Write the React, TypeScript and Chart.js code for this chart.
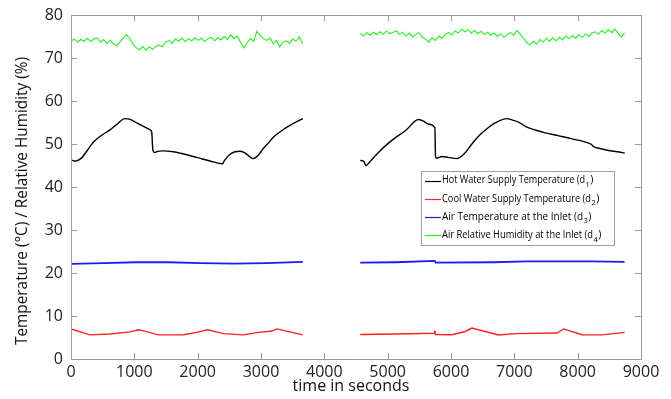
import { useEffect, useRef } from "react";
import { Chart, registerables } from "chart.js";
Chart.register(...registerables);

const FONT = "'Open Sans', sans-serif";

// Hot water supply temperature (d1)
const hotTimeA = [0, 62, 154, 257, 352, 462, 616, 719, 852, 924, 1027, 1130, 1248, 1274, 1294, 1324, 1366, 1438, 1616, 1746, 1933, 2054, 2208, 2391, 2424, 2512, 2588, 2670, 2752, 2824, 2880, 2957, 3029, 3132, 3197, 3337, 3491, 3661];
const hotValA = [46.3, 46.0, 46.6, 48.5, 50.4, 51.8, 53.3, 54.5, 55.9, 55.8, 55.0, 54.2, 53.3, 52.8, 48.5, 48.0, 48.3, 48.4, 48.2, 47.8, 47.1, 46.6, 46.0, 45.4, 46.2, 47.6, 48.2, 48.3, 47.9, 47.0, 46.6, 47.4, 48.8, 50.5, 51.6, 53.2, 54.6, 55.9];
const hotTimeB = [4566, 4621, 4655, 4744, 4878, 5013, 5134, 5288, 5487, 5566, 5648, 5745, 5756, 5771, 5853, 5956, 6094, 6213, 6330, 6469, 6572, 6698, 6883, 6962, 7067, 7188, 7342, 7488, 7702, 7910, 8174, 8215, 8252, 8369, 8488, 8626, 8742];
const hotValB = [46.2, 46.0, 45.0, 46.3, 48.4, 50.2, 51.6, 53.2, 55.7, 55.3, 54.6, 53.8, 47.0, 46.7, 47.1, 46.9, 46.6, 47.8, 50.0, 52.3, 53.6, 54.9, 55.9, 55.6, 55.1, 54.0, 53.2, 52.6, 51.9, 51.2, 50.2, 49.9, 49.4, 48.9, 48.5, 48.2, 47.9];

// Cool water supply temperature (d2)
const coolTimeA = [0, 298, 616, 934, 1064, 1130, 1379, 1774, 1985, 2160, 2406, 2721, 2959, 3170, 3249, 3661];
const coolValA = [7.0, 5.6, 5.8, 6.3, 6.8, 6.6, 5.6, 5.65, 6.2, 6.8, 5.9, 5.6, 6.2, 6.5, 7.0, 5.6];
const coolTimeB = [4566, 5134, 5740, 5745, 5756, 6014, 6225, 6330, 6751, 7015, 7673, 7778, 8068, 8384, 8742];
const coolValB = [5.7, 5.8, 6.0, 6.6, 5.7, 5.65, 6.4, 7.2, 5.6, 5.9, 6.05, 7.0, 5.65, 5.6, 6.2];

// Air temperature at the inlet (d3)
const airTimeA = [0, 513, 1027, 1540, 2054, 2567, 3081, 3661];
const airValA = [22.1, 22.3, 22.5, 22.5, 22.3, 22.2, 22.3, 22.6];
const airTimeB = [4566, 5134, 5745, 5760, 6675, 7188, 8215, 8742];
const airValB = [22.4, 22.5, 22.8, 22.4, 22.5, 22.7, 22.7, 22.6];

// Air relative humidity at the inlet (d4), regular sampling
const rhStartA = 0;
const rhStartB = 4570;
const rhStep = 51.5;
const rhValA = [
  73.9, 74.4, 73.7, 74.3, 73.9, 74.6, 73.8, 74.4, 74.7, 73.7,
  74.3, 73.4, 74.1, 73.3, 72.8, 73.7, 74.6, 75.4, 74.6, 73.2,
  72.4, 71.9, 72.7, 71.8, 72.6, 72.0, 72.7, 73.0, 72.6, 73.7,
  74.1, 73.4, 74.4, 73.9, 74.6, 73.8, 74.5, 74.0, 74.7, 74.1,
  74.6, 73.8, 74.5, 74.8, 74.0, 74.7, 74.2, 75.0, 74.3, 75.4,
  74.5, 75.1, 73.6, 72.4, 73.5, 74.5, 73.9, 76.2, 75.2, 74.5,
  74.1, 74.7, 73.3, 74.1, 72.6, 73.7, 74.0, 73.4, 74.4, 73.9,
  75.0, 73.3,
];
const rhValB = [
  75.7, 75.1, 75.9, 75.3, 76.0, 75.4, 76.1, 75.5, 76.3, 75.6,
  76.0, 76.3, 75.5, 76.0, 75.1, 75.8, 74.9, 75.5, 75.9, 74.8,
  74.4, 73.7, 74.7, 74.1, 75.1, 74.6, 75.5, 75.9, 75.4, 76.3,
  75.8, 76.7, 76.1, 76.6, 75.8, 76.4, 75.7, 76.2, 75.5, 76.0,
  75.3, 75.8, 75.0, 75.6, 74.8, 75.4, 75.9, 75.3, 76.4, 75.5,
  74.6, 73.6, 73.0, 73.9, 73.2, 74.3, 73.7, 74.6, 73.9, 74.7,
  74.0, 74.8, 74.2, 75.1, 74.5, 75.2, 74.6, 75.4, 74.8, 75.6,
  75.0, 75.8, 76.1, 75.5, 76.4, 75.8, 76.6, 75.9, 76.7, 75.8,
  74.9, 75.8,
];

const gapTime = 4100;
const xTicks = [0, 1000, 2000, 3000, 4000, 5000, 6000, 7000, 8000, 9000];
const yTicks = [0, 10, 20, 30, 40, 50, 60, 70, 80];

const legendLabels = [
  { text: "Hot Water Supply Temperature (d", sub: "1", color: "#000000", width: 143 },
  { text: "Cool Water Supply Temperature (d", sub: "2", color: "#ff2020", width: 149 },
  { text: "Air Temperature at the Inlet (d", sub: "3", color: "#1a1aff", width: 141 },
  { text: "Air Relative Humidity at the Inlet (d", sub: "4", color: "#22ee22", width: 151 },
];
const xTitle = "time in seconds";
const yTitle = "Temperature (°C) / Relative Humidity (%)";

function join(tA: number[], vA: number[], tB: number[], vB: number[]) {
  return [
    ...tA.map((x, i) => ({ x, y: vA[i] })),
    { x: gapTime, y: null },
    ...tB.map((x, i) => ({ x, y: vB[i] })),
  ];
}

const framePlugin = {
  id: "frame",
  afterDatasetsDraw(chart: any) {
    const { ctx, chartArea, scales } = chart;
    const { left, right, top, bottom } = chartArea;
    const xs = scales.x;
    const ys = scales.y;
    ctx.save();
    ctx.strokeStyle = "#9a9a9a";
    ctx.lineWidth = 1;
    ctx.beginPath();
    ctx.rect(Math.round(left) + 0.5, Math.round(top) + 0.5, Math.round(right - left), Math.round(bottom - top));
    ctx.stroke();
    const tl = 6;
    ctx.beginPath();
    xTicks.forEach((v) => {
      const px = Math.round(xs.getPixelForValue(v)) + 0.5;
      ctx.moveTo(px, bottom);
      ctx.lineTo(px, bottom - tl);
      ctx.moveTo(px, top);
      ctx.lineTo(px, top + tl);
    });
    yTicks.forEach((v) => {
      const py = Math.round(ys.getPixelForValue(v)) + 0.5;
      ctx.moveTo(left, py);
      ctx.lineTo(left + tl, py);
      ctx.moveTo(right, py);
      ctx.lineTo(right - tl, py);
    });
    ctx.stroke();

    // axis titles
    ctx.fillStyle = "#111";
    ctx.font = `16px ${FONT}`;
    ctx.textAlign = "center";
    ctx.textBaseline = "middle";
    ctx.fillText(xTitle, (left + right) / 2 - 5, 386, 118);
    ctx.save();
    ctx.translate(22, (top + bottom) / 2 + 14);
    ctx.rotate(-Math.PI / 2);
    ctx.fillText(yTitle, 0, 0, 288);
    ctx.restore();

    // legend
    const bx = 421.5;
    const by = 171.5;
    const bw = 193;
    const bh = 74;
    ctx.fillStyle = "#ffffff";
    ctx.fillRect(bx, by, bw, bh);
    ctx.strokeStyle = "#a0a0a0";
    ctx.strokeRect(bx, by, bw, bh);
    ctx.textAlign = "left";
    ctx.textBaseline = "middle";
    legendLabels.forEach((l, i) => {
      const cy = 180.5 + i * 18.3;
      ctx.strokeStyle = l.color;
      ctx.lineWidth = 1.2;
      ctx.beginPath();
      ctx.moveTo(425, Math.round(cy) + 0.5);
      ctx.lineTo(441, Math.round(cy) + 0.5);
      ctx.stroke();
      ctx.fillStyle = "#000";
      ctx.font = `10.5px ${FONT}`;
      const w = Math.min(ctx.measureText(l.text).width, l.width);
      ctx.fillText(l.text, 442, cy, l.width);
      ctx.font = `7.5px ${FONT}`;
      ctx.fillText(l.sub, 442 + w + 0.5, cy + 4);
      const sw = ctx.measureText(l.sub).width;
      ctx.font = `10.5px ${FONT}`;
      ctx.fillText(")", 442 + w + sw + 1, cy);
    });
    ctx.restore();
  },
};

export default function App() {
  const ref = useRef<HTMLCanvasElement | null>(null);
  useEffect(() => {
    if (!ref.current) return;
    const common = { pointRadius: 0, spanGaps: false, fill: false };
    const chart = new Chart(ref.current, {
      type: "line",
      data: {
        datasets: [
          {
            ...common,
            label: "d1",
            data: join(hotTimeA, hotValA, hotTimeB, hotValB) as any,
            borderColor: "#000000",
            borderWidth: 1.4,
            cubicInterpolationMode: "monotone",
          },
          {
            ...common,
            label: "d2",
            data: join(coolTimeA, coolValA, coolTimeB, coolValB) as any,
            borderColor: "#ff2020",
            borderWidth: 1.4,
            tension: 0,
          },
          {
            ...common,
            label: "d3",
            data: join(airTimeA, airValA, airTimeB, airValB) as any,
            borderColor: "#1a1aff",
            borderWidth: 1.8,
            tension: 0,
          },
          {
            ...common,
            label: "d4",
            data: join(
              rhValA.map((_, i) => rhStartA + i * rhStep),
              rhValA,
              rhValB.map((_, i) => rhStartB + i * rhStep),
              rhValB
            ) as any,
            borderColor: "#22ee22",
            borderWidth: 1.1,
            tension: 0,
          },
        ],
      },
      options: {
        responsive: false,
        animation: false,
        devicePixelRatio: 1,
        layout: { padding: { top: 15, right: 30, left: 0, bottom: 0 } },
        plugins: { legend: { display: false }, tooltip: { enabled: false } },
        scales: {
          x: {
            type: "linear",
            min: 0,
            max: 9000,
            afterBuildTicks: (s: any) => {
              s.ticks = xTicks.map((v) => ({ value: v }));
            },
            afterFit: (s: any) => {
              s.height = 40;
              s.paddingLeft = 0;
              s.paddingRight = 0;
            },
            ticks: {
              font: { family: FONT, size: 16 },
              color: "#222",
              padding: 4,
              maxRotation: 0,
              autoSkip: false,
              callback: (v: any) => String(v),
            },
            grid: { display: false, drawTicks: false },
            border: { display: false },
          },
          y: {
            min: 0,
            max: 80,
            afterBuildTicks: (s: any) => {
              s.ticks = yTicks.map((v) => ({ value: v }));
            },
            afterFit: (s: any) => {
              s.width = 71;
              s.paddingTop = 0;
              s.paddingBottom = 0;
            },
            ticks: {
              font: { family: FONT, size: 16 },
              color: "#222",
              padding: 8,
              autoSkip: false,
              callback: (v: any) => String(v),
            },
            grid: { display: false, drawTicks: false },
            border: { display: false },
          },
        },
      },
      plugins: [framePlugin],
    });
    return () => chart.destroy();
  }, []);
  return (
    <div style={{ position: "fixed", left: 0, top: 0, width: 671, height: 399, background: "#fff" }}>
      <canvas ref={ref} width={671} height={399} style={{ display: "block" }} />
    </div>
  );
}
